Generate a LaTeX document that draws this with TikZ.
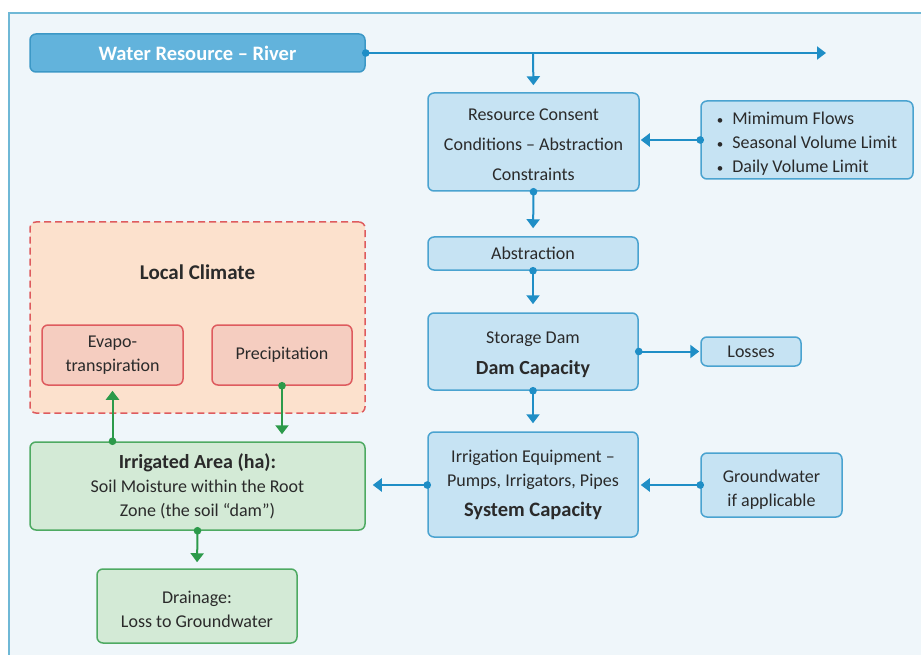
\documentclass[tikz,border=0pt]{standalone}
\usepackage{fontspec}
\setmainfont{Carlito}
\usetikzlibrary{arrows.meta}
\definecolor{bgblue}{HTML}{EFF6FA}
\definecolor{frameblue}{HTML}{6FB8D6}
\definecolor{boxblue}{HTML}{4AA3D0}
\definecolor{fillblue}{HTML}{C6E3F3}
\definecolor{riverfill}{HTML}{62B3DC}
\definecolor{riverdraw}{HTML}{3C98C6}
\definecolor{lineblue}{HTML}{1F8EC6}
\definecolor{greenfill}{HTML}{D3EAD6}
\definecolor{greendraw}{HTML}{4EAA62}
\definecolor{linegreen}{HTML}{2C9A4A}
\definecolor{redfill}{HTML}{F5CDC0}
\definecolor{reddraw}{HTML}{DE5B5E}
\definecolor{climfill}{HTML}{FCE1CD}
\definecolor{textgray}{HTML}{2A2A2A}
\newcommand{\smbul}{{\fontsize{13}{13}\selectfont\textbullet}\enspace}
\tikzset{
  x=1pt, y=-1pt,
  basebox/.style={rectangle, rounded corners=6pt, line width=1.5pt, align=center, inner sep=0pt, text=textgray, font=\fontsize{18}{24}\selectfont},
  bluebox/.style={basebox, draw=boxblue, fill=fillblue},
  greenbox/.style={basebox, draw=greendraw, fill=greenfill},
  redbox/.style={basebox, draw=reddraw, fill=redfill},
  tipstyle/.style={-{Triangle[width=13pt,length=9pt]}},
  bconn/.style={draw=lineblue, line width=2pt, {Circle[length=7.5pt]}-{Triangle[width=13pt,length=9pt]}, shorten <=-3.75pt},
  gconn/.style={draw=linegreen, line width=2pt, {Circle[length=7.5pt]}-{Triangle[width=13pt,length=9pt]}, shorten <=-3.75pt},
}
\begin{document}
\begin{tikzpicture}
\useasboundingbox (0,0) rectangle (921,655);
\clip (0,0) rectangle (921,655);
\fill[white] (0,0) rectangle (921,655);
\draw[draw=frameblue, fill=bgblue, line width=1.5pt] (9,13) rectangle (935,670);

% nodes
\node[basebox, draw=riverdraw, fill=riverfill, text=white, font=\fontsize{20.5}{24}\selectfont\bfseries,
  minimum width=335pt, minimum height=38pt] (river) at (197.5,53) {Water Resource -- River};
\coordinate (riverend) at (826,53);
\coordinate (branch) at (533,53);

\node[bluebox, minimum width=211pt, minimum height=98pt, font=\fontsize{18}{30}\selectfont] (consent) at (533.5,142)
  {\rule{0pt}{17pt}Resource Consent\\Conditions -- Abstraction\\Constraints};
\node[bluebox, minimum width=212pt, minimum height=78pt, align=left] (limits) at (807,140)
  {\rule{0pt}{20pt}\smbul Mimimum Flows\\\smbul Seasonal Volume Limit\\\smbul Daily Volume Limit};
\node[bluebox, minimum width=210pt, minimum height=33pt] (abstr) at (533,253.5) {Abstraction};
\node[bluebox, minimum width=210pt, minimum height=77pt, font=\fontsize{18}{31}\selectfont] (dam) at (533,351.5)
  {\rule{0pt}{18pt}Storage Dam\\\fontsize{20}{31}\selectfont\bfseries Dam Capacity};
\node[bluebox, minimum width=100pt, minimum height=29pt] (losses) at (751,351.5) {Losses};
\node[bluebox, minimum width=210pt, minimum height=105pt] (equip) at (533,484.5)
  {Irrigation Equipment --\\Pumps, Irrigators, Pipes\\[6pt]\fontsize{20.5}{24}\selectfont\bfseries System Capacity};
\node[bluebox, minimum width=141pt, minimum height=64pt] (gw) at (771.5,485) {\rule{0pt}{21pt}Groundwater\\if applicable};

\node[basebox, draw=reddraw, fill=climfill, dashed, dash pattern=on 7pt off 4pt, minimum width=335pt, minimum height=191pt] (climate) at (197.5,317.5) {};
\node[text=textgray, font=\fontsize{21}{24}\selectfont\bfseries] (climtitle) at (197.5,272) {Local Climate};
\node[redbox, minimum width=141pt, minimum height=60pt] (evapo) at (112.5,355) {Evapo-\\transpiration};
\node[redbox, minimum width=140pt, minimum height=60pt] (precip) at (282,355) {Precipitation};

\node[greenbox, minimum width=335pt, minimum height=88pt] (irr) at (197.5,486)
  {{\fontsize{20}{24}\selectfont\bfseries Irrigated Area (ha):}\\Soil Moisture within the Root\\Zone (the soil “dam”)};
\node[greenbox, minimum width=200pt, minimum height=74pt] (drain) at (197,606) {\rule{0pt}{19pt}Drainage:\\Loss to Groundwater};

% connectors
\draw[bconn] (river.east) -- (riverend);
\draw[draw=lineblue, line width=2pt, tipstyle, shorten >=7pt] (branch) -- (consent.north);
\draw[bconn, shorten >=8pt] (consent.south) -- (abstr.north);
\draw[bconn, shorten >=8pt] (abstr.south) -- (dam.north);
\draw[bconn, shorten >=8pt] (dam.south) -- (equip.north);
\draw[bconn, shorten >=1pt] (dam.east) -- (losses.west);
\draw[bconn, shorten >=1pt] (limits.west) -- (limits.west -| consent.east);
\draw[bconn, shorten >=2pt] (gw.west) -- (gw.west -| equip.east);
\draw[bconn, shorten >=7pt] (equip.west |- gw.west) -- (gw.west -| irr.east);
\draw[gconn, shorten >=5pt] (evapo.south |- irr.north) -- (evapo.south);
\draw[gconn, shorten >=7pt] (precip.south) -- (precip.south |- irr.north);
\draw[gconn, shorten >=6pt] (irr.south) -- (drain.north);
\end{tikzpicture}
\end{document}
